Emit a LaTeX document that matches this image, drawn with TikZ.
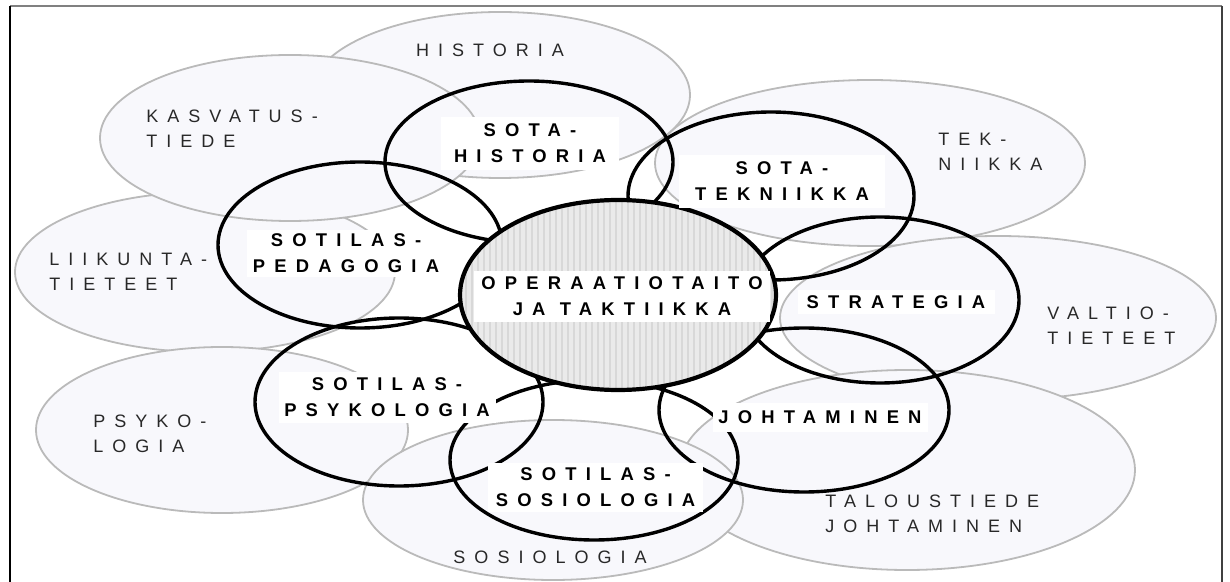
\documentclass[tikz,border=0pt]{standalone}
\usepackage{fontspec}
\usetikzlibrary{shapes.geometric}
\newfontfamily\lblfont[LetterSpace=50]{Liberation Sans}
\definecolor{ellfill}{RGB}{248,248,252}
\definecolor{elldraw}{RGB}{186,186,186}
\definecolor{lbl}{RGB}{40,40,40}
\definecolor{corefill}{RGB}{234,234,234}
\definecolor{corestripe}{RGB}{216,216,216}
\tikzset{
  gell/.style={ellipse, inner sep=0pt, fill=ellfill, draw=elldraw, line width=0.9pt},
  bell/.style={ellipse, inner sep=0pt, draw=black, line width=1.7pt},
  glabel/.style={font=\lblfont\fontsize{9}{12.3}\selectfont, text=lbl, align=left, anchor=west, inner sep=0pt},
  clabel/.style={font=\lblfont\fontsize{9}{12.3}\selectfont, text=lbl, inner sep=0pt},
  blabel/.style={font=\lblfont\bfseries\fontsize{9.2}{13}\selectfont, fill=white, align=center, inner sep=0pt},
  framestyle/.style={line width=1pt}
}
\begin{document}
\begin{tikzpicture}[x=0.5pt,y=-0.5pt]
\useasboundingbox (0,0) rectangle (1230,582);
% frame
\coordinate (ftl) at (10,6);
\coordinate (ftr) at (1222,6);
\coordinate (fbl) at (10,582);
\coordinate (fbr) at (1222,582);
\draw[framestyle, gray] (ftl) -- (ftr);
\draw[framestyle, black] (ftl) -- (fbl);
\draw[framestyle, black!75] (ftr) -- (fbr);
% grey ellipses
\node[gell, minimum width=190pt, minimum height=83pt] (historia) at (500,95) {};
\node[gell, minimum width=215pt, minimum height=83pt] (tekniikka) at (870,163) {};
\node[gell, minimum width=218pt, minimum height=82pt] (valtio) at (998,318) {};
\node[gell, minimum width=228pt, minimum height=100pt] (talous) at (907,470) {};
\node[gell, minimum width=190pt, minimum height=80pt] (liikunta) at (205,272) {};
\node[gell, minimum width=190pt, minimum height=83pt] (kasvatus) at (290,138) {};
\node[gell, minimum width=186pt, minimum height=83pt] (psyko) at (222,430) {};
\node[gell, minimum width=190pt, minimum height=80pt] (sosio) at (553,500) {};
% black ellipses
\node[bell, minimum width=144pt, minimum height=81pt] (sotahist) at (529,162) {};
\node[bell, minimum width=143pt, minimum height=84pt] (sotatek) at (771,196) {};
\node[bell, minimum width=139pt, minimum height=83pt] (strategia) at (880,300) {};
\node[bell, minimum width=145pt, minimum height=82pt] (johtaminen) at (804,410) {};
\node[bell, minimum width=144pt, minimum height=80pt] (sotsosio) at (594,460) {};
\node[bell, minimum width=144pt, minimum height=84pt] (sotpsyk) at (399,402) {};
\node[bell, minimum width=142pt, minimum height=83pt] (sotped) at (360,245) {};
% central ellipse
\node[ellipse, inner sep=0pt, fill=corefill, minimum width=158pt, minimum height=95pt,
  path picture={\foreach \i in {0,...,54}{\draw[corestripe, line width=1pt] ([xshift=\i*3pt]path picture bounding box.south west) -- ++(0pt,100pt);}}] (core) at (618,295) {};
\draw[line width=2.1pt] (core.center) ellipse [x radius=79pt, y radius=47.5pt];
% grey labels
\node[clabel] (lhistoria) at (490,50) {HISTORIA};
\node[glabel] (lkasvatus) at (146,129) {KASVATUS-\\TIEDE};
\node[glabel] (lliikunta) at (49,272) {LIIKUNTA-\\TIETEET};
\node[glabel] (lpsyko) at (93,434) {PSYKO-\\LOGIA};
\node[clabel] (lsosio) at (550,557) {SOSIOLOGIA};
\node[glabel] (ltalous) at (825,514) {TALOUSTIEDE\\JOHTAMINEN};
\node[glabel] (lvaltio) at (1047,326) {VALTIO-\\TIETEET};
\node[glabel] (ltek) at (938,152) {TEK-\\NIIKKA};
% black labels (white boxes)
\node[blabel, minimum width=89pt, minimum height=26.5pt] (lsotahist) at (530,143.5) {SOTA-\\HISTORIA};
\node[blabel, minimum width=103pt, minimum height=26.5pt] (lsotatek) at (782,181.5) {SOTA-\\TEKNIIKKA};
\node[blabel, minimum width=99pt, minimum height=23.5pt] (lsotped) at (346,253.5) {SOTILAS-\\PEDAGOGIA};
\node[blabel, minimum width=148pt, minimum height=25.5pt] (lcore) at (622,296.5) {OPERAATIOTAITO\\JA TAKTIIKKA};
\node[blabel, minimum width=98.5pt, minimum height=12pt] (lstrategia) at (896,302) {STRATEGIA};
\node[blabel, minimum width=107.5pt, minimum height=14.5pt] (ljohtaminen) at (820,417.5) {JOHTAMINEN};
\node[blabel, minimum width=108.5pt, minimum height=25.5pt] (lsotpsyk) at (387,397.5) {SOTILAS-\\PSYKOLOGIA};
\node[blabel, minimum width=107.5pt, minimum height=24.5pt] (lsotsosio) at (595.5,487.5) {SOTILAS-\\SOSIOLOGIA};
\end{tikzpicture}
\end{document}
